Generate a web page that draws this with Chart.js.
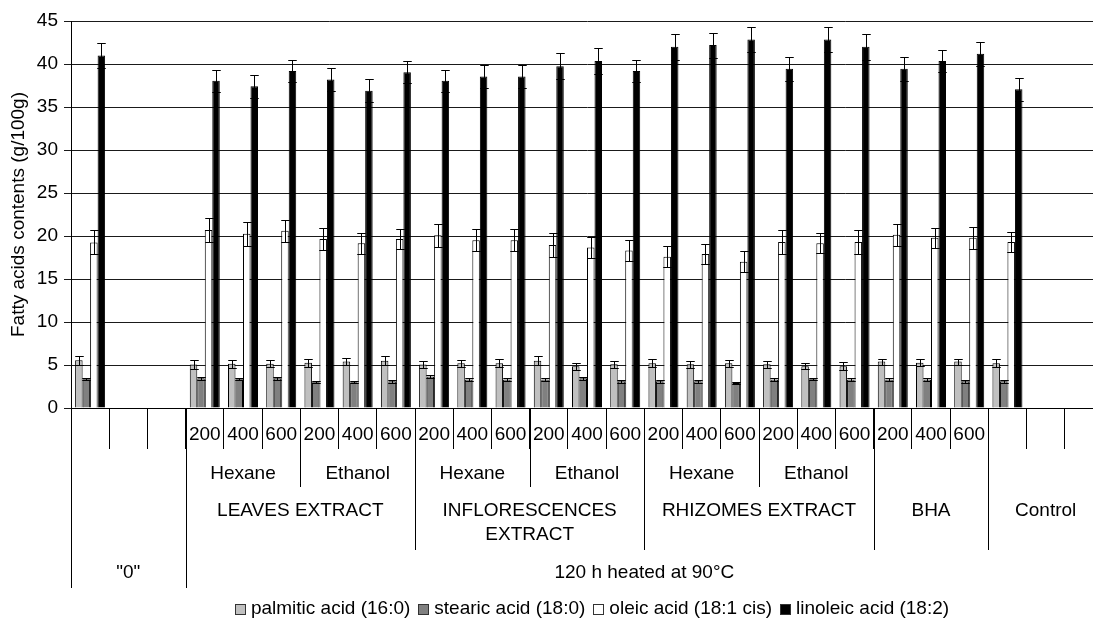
<!DOCTYPE html>
<html>
<head>
<meta charset="utf-8">
<script src="https://cdn.jsdelivr.net/npm/chart.js@4.4.0/dist/chart.umd.min.js"></script>
<style>
  html, body { margin: 0; padding: 0; background: #fff; overflow: hidden; }
  #wrap { position: relative; width: 1110px; height: 619px; }
</style>
</head>
<body>
<div id="wrap"><canvas id="c"></canvas></div>
<script>
// Category hierarchy, one entry per slot (innermost level first)
const doses = ['', '', '',
  '200', '400', '600', '200', '400', '600',
  '200', '400', '600', '200', '400', '600',
  '200', '400', '600', '200', '400', '600',
  '200', '400', '600',
  '', '', ''];
const solvents = ['', '', '',
  'Hexane', 'Hexane', 'Hexane', 'Ethanol', 'Ethanol', 'Ethanol',
  'Hexane', 'Hexane', 'Hexane', 'Ethanol', 'Ethanol', 'Ethanol',
  'Hexane', 'Hexane', 'Hexane', 'Ethanol', 'Ethanol', 'Ethanol',
  '', '', '',
  '', '', ''];
const materials = ['', '', '',
  'LEAVES EXTRACT', 'LEAVES EXTRACT', 'LEAVES EXTRACT', 'LEAVES EXTRACT', 'LEAVES EXTRACT', 'LEAVES EXTRACT',
  'INFLORESCENCES\nEXTRACT', 'INFLORESCENCES\nEXTRACT', 'INFLORESCENCES\nEXTRACT', 'INFLORESCENCES\nEXTRACT', 'INFLORESCENCES\nEXTRACT', 'INFLORESCENCES\nEXTRACT',
  'RHIZOMES EXTRACT', 'RHIZOMES EXTRACT', 'RHIZOMES EXTRACT', 'RHIZOMES EXTRACT', 'RHIZOMES EXTRACT', 'RHIZOMES EXTRACT',
  'BHA', 'BHA', 'BHA',
  'Control', 'Control', 'Control'];
const treatments = ['"0"', '"0"', '"0"'].concat(Array(24).fill('120 h heated at 90°C'));

// Fatty acid contents (g/100g) and their standard deviations
const palmitic    = [5.55, null, null, 5.05, 5.15, 5.15, 5.25, 5.4, 5.5, 5.05, 5.2, 5.2, 5.5, 4.85, 5.1, 5.2, 5.1, 5.2, 5.1, 4.85, 4.85, 5.4, 5.25, 5.4, 5.2, null, null];
const palmiticSd  = [0.55, null, null, 0.5, 0.45, 0.4, 0.45, 0.45, 0.5, 0.45, 0.4, 0.45, 0.5, 0.4, 0.4, 0.45, 0.4, 0.4, 0.4, 0.35, 0.45, 0.35, 0.4, 0.35, 0.45, null, null];
const stearic     = [3.35, null, null, 3.45, 3.35, 3.45, 3.0, 3.0, 3.1, 3.65, 3.3, 3.3, 3.3, 3.45, 3.1, 3.1, 3.1, 2.9, 3.3, 3.35, 3.3, 3.3, 3.3, 3.1, 3.1, null, null];
const stearicSd   = [0.15, null, null, 0.2, 0.15, 0.2, 0.15, 0.15, 0.15, 0.2, 0.15, 0.15, 0.15, 0.2, 0.15, 0.15, 0.15, 0.15, 0.15, 0.15, 0.15, 0.15, 0.15, 0.15, 0.15, null, null];
const oleic       = [19.25, null, null, 20.7, 20.25, 20.6, 19.65, 19.15, 19.65, 20.1, 19.5, 19.5, 18.95, 18.65, 18.3, 17.6, 17.9, 17.0, 19.3, 19.15, 19.3, 20.15, 19.8, 19.8, 19.3, null, null];
const oleicSd     = [1.4, null, null, 1.4, 1.4, 1.3, 1.3, 1.2, 1.2, 1.35, 1.3, 1.3, 1.35, 1.25, 1.2, 1.2, 1.2, 1.2, 1.35, 1.15, 1.35, 1.3, 1.15, 1.3, 1.2, null, null];
const linoleic    = [41.0, null, null, 38.05, 37.4, 39.2, 38.2, 36.9, 39.05, 38.05, 38.55, 38.55, 39.75, 40.35, 39.2, 42.0, 42.2, 42.85, 39.45, 42.85, 42.0, 39.45, 40.35, 41.2, 37.05, null, null];
const linoleicSd  = [1.5, null, null, 1.3, 1.3, 1.3, 1.3, 1.3, 1.3, 1.25, 1.3, 1.3, 1.5, 1.5, 1.3, 1.5, 1.45, 1.5, 1.4, 1.5, 1.5, 1.4, 1.3, 1.4, 1.3, null, null];

const seriesNames = ['palmitic acid (16:0)', 'stearic acid (18:0)', 'oleic acid (18:1 cis)', 'linoleic acid (18:2)'];
const seriesValues = [palmitic, stearic, oleic, linoleic];
const seriesSd = [palmiticSd, stearicSd, oleicSd, linoleicSd];
const seriesFill = ['#c0c0c0', '#808080', '#ffffff', '#000000'];

const FONT = '"Liberation Sans", Arial, Helvetica, sans-serif';
const FS = 19;

// Vertical error bars (± SD) on every bar
const errorBars = {
  id: 'errorBars',
  afterDatasetsDraw(chart) {
    const ctx = chart.ctx, y = chart.scales.y;
    ctx.save();
    ctx.strokeStyle = '#000';
    ctx.lineWidth = 1;
    chart.data.datasets.forEach((ds, di) => {
      const sd = seriesSd[di];
      chart.getDatasetMeta(di).data.forEach((bar, i) => {
        const v = ds.data[i], e = sd[i];
        if (v == null || e == null) return;
        const top = Math.round(y.getPixelForValue(v + e)) + 0.5;
        const bot = Math.round(y.getPixelForValue(v - e)) + 0.5;
        const cx = Math.round(bar.x) + 0.5;
        const hw = bar.width / 2 + 0.5;
        ctx.beginPath();
        ctx.moveTo(cx, top); ctx.lineTo(cx, bot);
        ctx.moveTo(cx - hw, top); ctx.lineTo(cx + hw, top);
        ctx.moveTo(cx - hw, bot); ctx.lineTo(cx + hw, bot);
        ctx.stroke();
      });
    });
    ctx.restore();
  }
};

// Outer levels of the category axis, the group separators and the legend
const groupAxis = {
  id: 'groupAxis',
  afterDraw(chart, args, opts) {
    const ctx = chart.ctx, x = chart.scales.x;
    const levels = [doses, solvents, materials, treatments];
    const n = doses.length;
    const half = (x.getPixelForValue(1) - x.getPixelForValue(0)) / 2;
    const edge = i => (i < n ? x.getPixelForValue(i) - half : x.getPixelForValue(n - 1) + half);
    const key = (i, L) => levels.slice(L).map(a => a[i]).join('|');
    const axisY = x.top;

    ctx.save();
    ctx.strokeStyle = '#000';
    ctx.lineWidth = 1;
    // separators: depth given by the outermost level that changes
    for (let i = 0; i <= n; i++) {
      let depth = 0;
      if (i === 0 || i === n) depth = 3;
      else {
        for (let L = 3; L >= 1; L--) {
          if (key(i - 1, L) !== key(i, L)) { depth = L; break; }
        }
      }
      if (depth === 0) continue;
      const px = Math.round(edge(i)) + 0.5;
      ctx.beginPath();
      ctx.moveTo(px, axisY);
      ctx.lineTo(px, axisY + opts.rowBottom[depth]);
      ctx.stroke();
    }
    // group labels
    ctx.fillStyle = '#000';
    ctx.font = FS + 'px ' + FONT;
    ctx.textAlign = 'center';
    ctx.textBaseline = 'middle';
    for (let L = 1; L <= 3; L++) {
      let start = 0;
      for (let i = 1; i <= n; i++) {
        if (i === n || key(i, L) !== key(start, L)) {
          const text = levels[L][start];
          if (text) {
            const cx = (edge(start) + edge(i)) / 2;
            text.split('\n').forEach((line, k) => {
              ctx.fillText(line, cx, axisY + opts.textY[L] + k * opts.lineStep);
            });
          }
          start = i;
        }
      }
    }
    // legend
    ctx.font = FS + 'px ' + FONT;
    ctx.textAlign = 'left';
    const widths = seriesNames.map(t => ctx.measureText(t).width);
    const box = 10, gap = 6, spacing = 8;
    const total = widths.reduce((s, w) => s + box + gap + w, 0) + spacing * (seriesNames.length - 1);
    let lx = opts.legendCenter - total / 2;
    const ly = opts.legendY;
    seriesNames.forEach((name, k) => {
      const bx = Math.round(lx) + 0.5, by = Math.round(ly - box / 2) + 0.5;
      ctx.fillStyle = seriesFill[k];
      ctx.fillRect(bx, by, box, box);
      ctx.strokeStyle = '#333';
      ctx.strokeRect(bx, by, box, box);
      ctx.fillStyle = '#000';
      ctx.fillText(name, lx + box + gap, ly);
      lx += box + gap + widths[k] + spacing;
    });
    ctx.restore();
  }
};

new Chart(document.getElementById('c'), {
  type: 'bar',
  data: {
    labels: doses,
    datasets: seriesNames.map((name, k) => ({
      label: name,
      data: seriesValues[k],
      backgroundColor: seriesFill[k],
      borderColor: '#000',
      borderWidth: 1
    }))
  },
  options: {
    responsive: true,
    maintainAspectRatio: false,
    animation: false,
    layout: { padding: { top: 21, right: 7, bottom: 0, left: 0 } },
    datasets: { bar: { categoryPercentage: 0.785, barPercentage: 1.0 } },
    plugins: {
      legend: { display: false },
      tooltip: { enabled: false },
      groupAxis: { rowBottom: [41, 79, 142, 180], textY: [26, 66, 103, 165], lineStep: 24, legendCenter: 592, legendY: 609 }
    },
    scales: {
      x: {
        offset: true,
        grid: { display: true, offset: true, drawOnChartArea: false, drawTicks: true, tickLength: 41, color: '#000', lineWidth: 1 },
        border: { display: true, color: '#000', width: 1 },
        ticks: { color: '#000', font: { family: FONT, size: FS }, padding: -26, autoSkip: false, maxRotation: 0, minRotation: 0 },
        afterFit(s) { s.height = 211; }
      },
      y: {
        min: 0,
        max: 45,
        ticks: { stepSize: 5, color: '#000', font: { family: FONT, size: FS }, padding: 6 },
        grid: { color: '#1a1a1a', lineWidth: 1, tickLength: 7 },
        border: { display: true, color: '#000', width: 1 },
        title: { display: true, text: 'Fatty acids contents (g/100g)', color: '#000', font: { family: FONT, size: FS }, padding: { top: 7, bottom: 0 } },
        afterFit(s) { s.width = 71; }
      }
    }
  },
  plugins: [errorBars, groupAxis]
});
</script>
</body>
</html>
